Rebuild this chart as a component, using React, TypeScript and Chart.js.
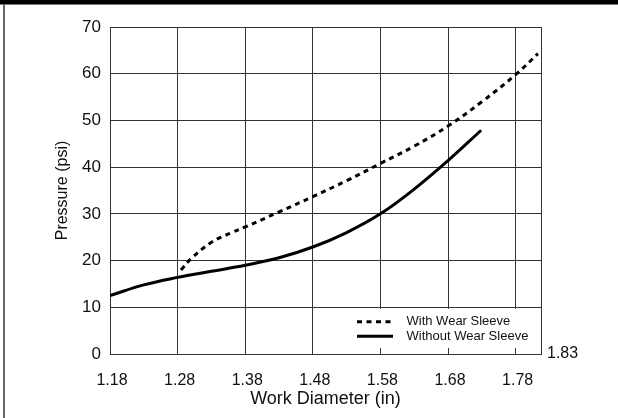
import React, { useEffect, useRef } from "react";
import { Chart, registerables } from "chart.js";

Chart.register(...registerables);

// ---- data ----
const xTickValues = [1.18, 1.28, 1.38, 1.48, 1.58, 1.68, 1.78];
const xMin = 1.18;
const xMax = 1.8175;
const yMin = 0;
const yMax = 70;
const yStep = 10;
const endLabel = "1.83";

const seriesLabels = ["With Wear Sleeve", "Without Wear Sleeve"];

const withSleeveX = [1.285, 1.3, 1.33, 1.36, 1.38, 1.43, 1.48, 1.53, 1.58, 1.63, 1.68, 1.73, 1.78, 1.813];
const withSleeveY = [18.0, 20.4, 23.9, 26.0, 27.2, 30.4, 33.7, 37.1, 40.8, 44.5, 48.8, 54.0, 59.8, 64.3];

const withoutSleeveX = [1.18, 1.23, 1.28, 1.33, 1.38, 1.43, 1.48, 1.53, 1.58, 1.63, 1.68, 1.729];
const withoutSleeveY = [12.5, 14.8, 16.4, 17.7, 19.0, 20.6, 22.9, 26.0, 30.0, 35.3, 41.4, 47.9];

const FONT = "'Liberation Sans', Arial, Helvetica, sans-serif";
const gridColor = "#333";
const textColor = "#111";

const framePlugin = {
  id: "frame",
  beforeDraw(chart: any) {
    const { ctx, width, height } = chart;
    ctx.save();
    ctx.fillStyle = "#fff";
    ctx.fillRect(0, 0, width, height);
    ctx.fillStyle = "#000";
    ctx.fillRect(0, 0, width, 4);
    ctx.fillStyle = "#777";
    ctx.fillRect(0, 4, width, 1);
    ctx.fillStyle = "#666";
    ctx.fillRect(3, 4, 2, height - 4);
    ctx.restore();
  },
};

const insideLegendPlugin = {
  id: "insideLegend",
  afterDatasetsDraw(chart: any) {
    const { ctx, chartArea, scales } = chart;
    const x0 = chartArea.right - 196;
    const y0 = scales.y.getPixelForValue(10) + 1.5;
    const y1 = chartArea.bottom - 6;
    ctx.save();
    ctx.fillStyle = "#fff";
    ctx.fillRect(x0, y0, chartArea.right - 1 - x0, y1 - y0);
    chart.data.datasets.forEach((ds: any, i: number) => {
      const cy = y0 + 13 + i * 14.5;
      ctx.beginPath();
      ctx.strokeStyle = ds.borderColor;
      ctx.lineWidth = ds.borderWidth;
      ctx.setLineDash(ds.borderDash || []);
      ctx.moveTo(x0 + 12, cy);
      ctx.lineTo(x0 + 48, cy);
      ctx.stroke();
      ctx.setLineDash([]);
      ctx.fillStyle = textColor;
      ctx.font = `13px ${FONT}`;
      ctx.textAlign = "left";
      ctx.textBaseline = "middle";
      ctx.fillText(ds.label, x0 + 61.5, cy);
    });
    // end label at right of the axis
    ctx.font = `16px ${FONT}`;
    ctx.fillStyle = textColor;
    ctx.textAlign = "left";
    ctx.textBaseline = "middle";
    ctx.fillText(endLabel, chartArea.right + 6, scales.y.getPixelForValue(0));
    ctx.restore();
  },
};

export default function App() {
  const ref = useRef<HTMLCanvasElement>(null);

  useEffect(() => {
    document.body.style.margin = "0";
    const canvas = ref.current!;
    const chart = new Chart(canvas, {
      type: "line",
      data: {
        datasets: [
          {
            label: seriesLabels[0],
            data: withSleeveX.map((x, i) => ({ x, y: withSleeveY[i] })),
            borderColor: "#000",
            borderWidth: 3,
            borderDash: [5, 4.5],
            borderCapStyle: "butt",
            tension: 0.4,
            pointRadius: 0,
            fill: false,
          },
          {
            label: seriesLabels[1],
            data: withoutSleeveX.map((x, i) => ({ x, y: withoutSleeveY[i] })),
            borderColor: "#000",
            borderWidth: 3,
            tension: 0.4,
            pointRadius: 0,
            fill: false,
          },
        ],
      },
      options: {
        responsive: false,
        animation: false,
        devicePixelRatio: 1,
        layout: { padding: { top: 27, right: 77, left: 0, bottom: 0 } },
        plugins: {
          legend: { display: false },
          tooltip: { enabled: false },
        },
        scales: {
          x: {
            type: "linear",
            min: xMin,
            max: xMax,
            afterBuildTicks: (s: any) => {
              s.ticks = [...xTickValues, xMax].map((v) => ({ value: v }));
            },
            afterFit: (s: any) => {
              s.height = 64;
            },
            grid: { color: gridColor, lineWidth: 1, drawTicks: false },
            border: { color: gridColor, width: 1 },
            ticks: {
              autoSkip: false,
              maxRotation: 0,
              padding: 17,
              labelOffset: 2,
              color: textColor,
              font: { family: FONT, size: 16 },
              callback: (v: any, idx: number) =>
                idx < xTickValues.length ? xTickValues[idx].toFixed(2) : "",
            },
            title: {
              display: true,
              text: "Work Diameter (in)",
              color: textColor,
              font: { family: FONT, size: 18 },
              padding: { top: 0, bottom: 8 },
            },
          },
          y: {
            min: yMin,
            max: yMax,
            afterFit: (s: any) => {
              s.width = 110;
            },
            grid: { color: gridColor, lineWidth: 1, drawTicks: false },
            border: { color: gridColor, width: 1 },
            ticks: {
              stepSize: yStep,
              padding: 9,
              color: textColor,
              font: { family: FONT, size: 17 },
            },
            title: {
              display: true,
              text: "Pressure (psi)",
              color: textColor,
              font: { family: FONT, size: 16 },
              padding: { top: 53, bottom: 0 },
            },
          },
        },
      },
      plugins: [framePlugin, insideLegendPlugin],
    } as any);
    return () => chart.destroy();
  }, []);

  return (
    <canvas
      ref={ref}
      width={618}
      height={418}
      style={{ display: "block", width: 618, height: 418 }}
    />
  );
}
